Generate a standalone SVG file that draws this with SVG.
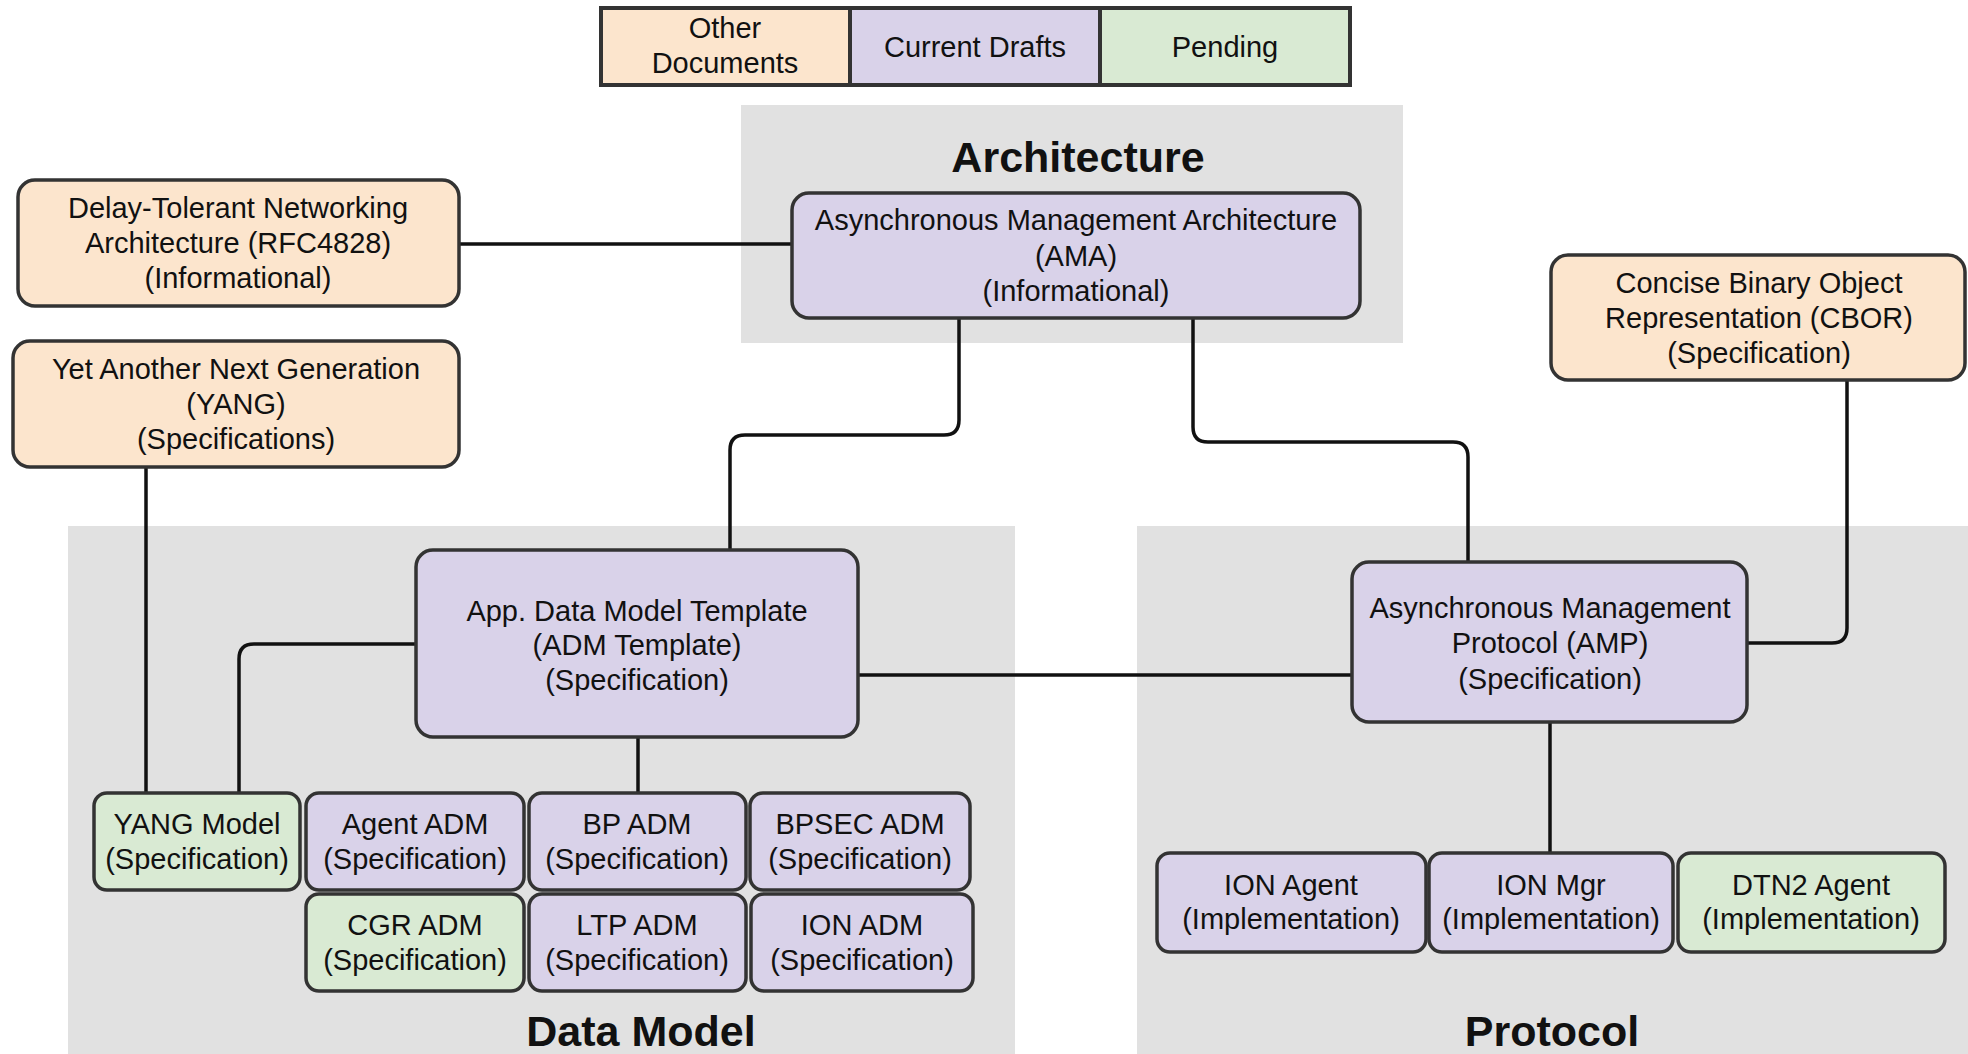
<svg xmlns="http://www.w3.org/2000/svg" width="1968" height="1054" viewBox="0 0 1968 1054">
<style>
text{font-family:"Liberation Sans",Arial,sans-serif;font-size:29px;fill:#111;text-anchor:middle}
.t{font-weight:bold;font-size:43px}
.bg{fill:#e1e1e1}
.o{fill:#fce5cd;stroke:#333;stroke-width:3.5}
.p{fill:#d9d2e9;stroke:#333;stroke-width:3.5}
.g{fill:#d9ead3;stroke:#333;stroke-width:3.5}
.c{fill:none;stroke:#111;stroke-width:3.5}
</style>
<rect width="1968" height="1054" fill="#fff"/>
<g id="groups">
<rect class="bg" x="741" y="105" width="662" height="238"/>
<text class="t" x="1078" y="172">Architecture</text>
<rect class="bg" x="68" y="526" width="947" height="528"/>
<text class="t" x="641" y="1046">Data Model</text>
<rect class="bg" x="1137" y="526" width="831" height="528"/>
<text class="t" x="1552" y="1046">Protocol</text>
</g>
<g id="legend">
<rect x="601" y="8" width="249" height="77" fill="#fce5cd" stroke="#333" stroke-width="4"/>
<rect x="850" y="8" width="250" height="77" fill="#d9d2e9" stroke="#333" stroke-width="4"/>
<rect x="1100" y="8" width="250" height="77" fill="#d9ead3" stroke="#333" stroke-width="4"/>
<text x="725" y="38">Other</text><text x="725" y="73">Documents</text>
<text x="975" y="57">Current Drafts</text>
<text x="1225" y="57">Pending</text>
</g>
<g id="connectors">
<path class="c" d="M459 244H792"/>
<path class="c" d="M959 318V420Q959 435 944 435H745Q730 435 730 450V550"/>
<path class="c" d="M1193 318V427Q1193 442 1208 442H1453Q1468 442 1468 457V562"/>
<path class="c" d="M1847 380V628Q1847 643 1832 643H1747"/>
<path class="c" d="M146 467V793"/>
<path class="c" d="M416 644H254Q239 644 239 659V793"/>
<path class="c" d="M638 737V793"/>
<path class="c" d="M858 675H1352"/>
<path class="c" d="M1550 722V853"/>
</g>
<g id="dtn"><rect class="o" x="18" y="180" width="441" height="126" rx="17"/>
<text x="238" y="218">Delay-Tolerant Networking</text><text x="238" y="253">Architecture (RFC4828)</text><text x="238" y="288">(Informational)</text></g>
<g id="yang"><rect class="o" x="13" y="341" width="446" height="126" rx="17"/>
<text x="236" y="379">Yet Another Next Generation</text><text x="236" y="414">(YANG)</text><text x="236" y="449">(Specifications)</text></g>
<g id="ama"><rect class="p" x="792" y="193" width="568" height="125" rx="17"/>
<text x="1076" y="230">Asynchronous Management Architecture</text><text x="1076" y="266">(AMA)</text><text x="1076" y="301">(Informational)</text></g>
<g id="cbor"><rect class="o" x="1551" y="255" width="414" height="125" rx="17"/>
<text x="1759" y="293">Concise Binary Object</text><text x="1759" y="328">Representation (CBOR)</text><text x="1759" y="363">(Specification)</text></g>
<g id="adm-template"><rect class="p" x="416" y="550" width="442" height="187" rx="17"/>
<text x="637" y="621">App. Data Model Template</text><text x="637" y="655">(ADM Template)</text><text x="637" y="690">(Specification)</text></g>
<g id="amp"><rect class="p" x="1352" y="562" width="395" height="160" rx="17"/>
<text x="1550" y="618">Asynchronous Management</text><text x="1550" y="653">Protocol (AMP)</text><text x="1550" y="689">(Specification)</text></g>
<g id="yang-model"><rect class="g" x="94" y="793" width="206" height="97" rx="13"/>
<text x="197" y="834">YANG Model</text><text x="197" y="869">(Specification)</text></g>
<g id="agent-adm"><rect class="p" x="306" y="793" width="218" height="97" rx="13"/>
<text x="415" y="834">Agent ADM</text><text x="415" y="869">(Specification)</text></g>
<g id="bp-adm"><rect class="p" x="529" y="793" width="217" height="97" rx="13"/>
<text x="637" y="834">BP ADM</text><text x="637" y="869">(Specification)</text></g>
<g id="bpsec-adm"><rect class="p" x="750" y="793" width="220" height="97" rx="13"/>
<text x="860" y="834">BPSEC ADM</text><text x="860" y="869">(Specification)</text></g>
<g id="cgr-adm"><rect class="g" x="306" y="894" width="218" height="97" rx="13"/>
<text x="415" y="935">CGR ADM</text><text x="415" y="970">(Specification)</text></g>
<g id="ltp-adm"><rect class="p" x="529" y="894" width="217" height="97" rx="13"/>
<text x="637" y="935">LTP ADM</text><text x="637" y="970">(Specification)</text></g>
<g id="ion-adm"><rect class="p" x="751" y="894" width="222" height="97" rx="13"/>
<text x="862" y="935">ION ADM</text><text x="862" y="970">(Specification)</text></g>
<g id="ion-agent"><rect class="p" x="1157" y="853" width="269" height="99" rx="13"/>
<text x="1291" y="895">ION Agent</text><text x="1291" y="929">(Implementation)</text></g>
<g id="ion-mgr"><rect class="p" x="1429" y="853" width="244" height="99" rx="13"/>
<text x="1551" y="895">ION Mgr</text><text x="1551" y="929">(Implementation)</text></g>
<g id="dtn2-agent"><rect class="g" x="1678" y="853" width="267" height="99" rx="13"/>
<text x="1811" y="895">DTN2 Agent</text><text x="1811" y="929">(Implementation)</text></g>
</svg>
